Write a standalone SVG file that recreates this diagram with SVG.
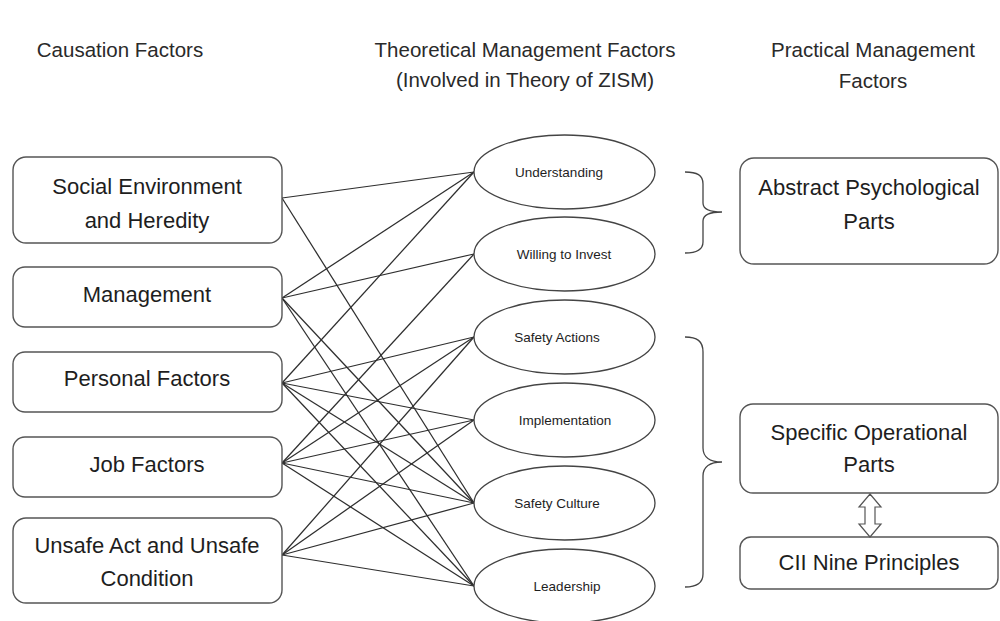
<svg xmlns="http://www.w3.org/2000/svg" width="1000" height="621" viewBox="0 0 1000 621">
<style>
text{font-family:"Liberation Sans",Arial,sans-serif;fill:#1e1e1e;text-anchor:middle}
.hdr{font-size:20.5px;fill:#2a2a2a}
.box{fill:#fff;stroke:#555;stroke-width:1.4}
.bt{font-size:22px}
.el{fill:#fff;stroke:#444;stroke-width:1.3}
.et{font-size:13.5px}
.cn line{stroke:#2e2e2e;stroke-width:1.25}
.br{fill:none;stroke:#444;stroke-width:1.3}
</style>
<rect width="1000" height="621" fill="#fff"/>
<g id="headers">
<text class="hdr" x="120" y="57">Causation Factors</text>
<text class="hdr" x="525" y="57">Theoretical Management Factors</text>
<text class="hdr" x="525" y="87">(Involved in Theory of ZISM)</text>
<text class="hdr" x="873" y="57">Practical Management</text>
<text class="hdr" x="873" y="88">Factors</text>
</g>
<g id="connectors" class="cn">
<line x1="282" y1="198" x2="474" y2="172"/>
<line x1="282" y1="198" x2="474" y2="503"/>
<line x1="282" y1="298" x2="474" y2="172"/>
<line x1="282" y1="298" x2="474" y2="254"/>
<line x1="282" y1="298" x2="474" y2="503"/>
<line x1="282" y1="298" x2="474" y2="586"/>
<line x1="282" y1="383" x2="474" y2="172"/>
<line x1="282" y1="383" x2="474" y2="337"/>
<line x1="282" y1="383" x2="474" y2="420"/>
<line x1="282" y1="383" x2="474" y2="503"/>
<line x1="282" y1="383" x2="474" y2="586"/>
<line x1="282" y1="463" x2="474" y2="254"/>
<line x1="282" y1="463" x2="474" y2="337"/>
<line x1="282" y1="463" x2="474" y2="420"/>
<line x1="282" y1="463" x2="474" y2="503"/>
<line x1="282" y1="463" x2="474" y2="586"/>
<line x1="282" y1="555" x2="474" y2="337"/>
<line x1="282" y1="555" x2="474" y2="420"/>
<line x1="282" y1="555" x2="474" y2="503"/>
<line x1="282" y1="555" x2="474" y2="586"/>
</g>
<g id="c1"><rect class="box" x="13" y="157" width="269" height="86" rx="13"/><text class="bt" x="147" y="194">Social Environment</text><text class="bt" x="147" y="228">and Heredity</text></g>
<g id="c2"><rect class="box" x="13" y="267" width="269" height="60" rx="12"/><text class="bt" x="147" y="302">Management</text></g>
<g id="c3"><rect class="box" x="13" y="352" width="269" height="60" rx="12"/><text class="bt" x="147" y="386">Personal Factors</text></g>
<g id="c4"><rect class="box" x="13" y="437" width="269" height="60" rx="12"/><text class="bt" x="147" y="472">Job Factors</text></g>
<g id="c5"><rect class="box" x="13" y="518" width="269" height="85" rx="13"/><text class="bt" x="147" y="553">Unsafe Act and Unsafe</text><text class="bt" x="147" y="586">Condition</text></g>
<g id="t1"><ellipse class="el" cx="564.5" cy="172" rx="90.5" ry="37"/><text class="et" x="559" y="177">Understanding</text></g>
<g id="t2"><ellipse class="el" cx="564.5" cy="254" rx="90.5" ry="37"/><text class="et" x="564" y="259">Willing to Invest</text></g>
<g id="t3"><ellipse class="el" cx="564.5" cy="337" rx="90.5" ry="37"/><text class="et" x="557" y="342">Safety Actions</text></g>
<g id="t4"><ellipse class="el" cx="564.5" cy="420" rx="90.5" ry="37"/><text class="et" x="565" y="425">Implementation</text></g>
<g id="t5"><ellipse class="el" cx="564.5" cy="503" rx="90.5" ry="37"/><text class="et" x="557" y="508">Safety Culture</text></g>
<g id="t6"><ellipse class="el" cx="564.5" cy="586" rx="90.5" ry="37"/><text class="et" x="567" y="591">Leadership</text></g>
<g id="brace-small"><path class="br" d="M685,172 C697,172 703,175 703,184 L703,203 C703,209 710,212 722,212 C710,212 703,215 703,221 L703,242 C703,250 697,253 685,253"/></g>
<g id="brace-big"><path class="br" d="M685,337 C697,337 703,341 703,352 L703,448 C703,457 710,462 722,462 C710,462 703,467 703,476 L703,574 C703,583 697,587 685,587"/></g>
<g id="p1"><rect class="box" x="740" y="158" width="258" height="106" rx="14"/><text class="bt" x="869" y="195">Abstract Psychological</text><text class="bt" x="869" y="229">Parts</text></g>
<g id="p2"><rect class="box" x="740" y="404" width="258" height="89" rx="13"/><text class="bt" x="869" y="440">Specific Operational</text><text class="bt" x="869" y="472">Parts</text></g>
<g id="p3"><rect class="box" x="740" y="537" width="258" height="52" rx="11"/><text class="bt" x="869" y="570">CII Nine Principles</text></g>
<g id="arrow"><path d="M870,494 L881,507 L875,507 L875,524 L881,524 L870,537 L859,524 L865,524 L865,507 L859,507 Z" fill="#fff" stroke="#555" stroke-width="1.2"/></g>
</svg>
